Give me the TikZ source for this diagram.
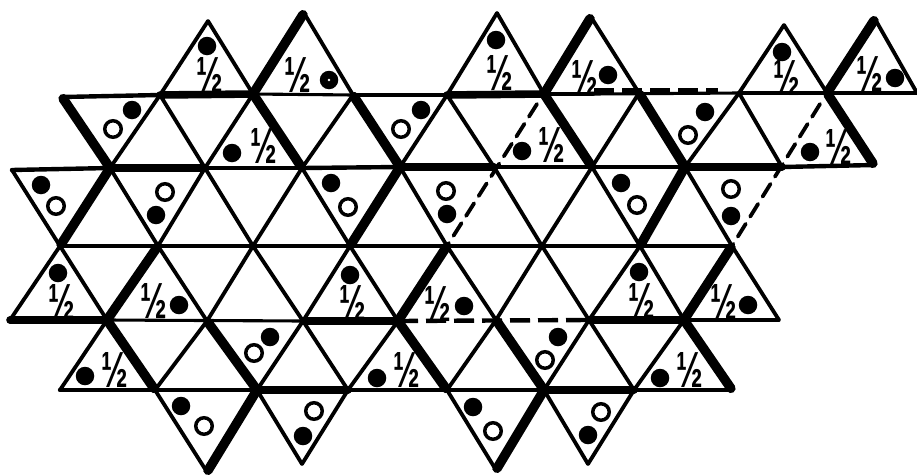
\documentclass[tikz,border=0pt]{standalone}
\usepackage{graphicx}
\usepackage{fontspec}
\setmainfont{Liberation Sans}
\newcommand\halfmark{\scalebox{0.82}[1.3]{½}}
\tikzset{
  thinline/.style={line width=3.8pt,line cap=round},
  thinhoriz/.style={line width=3.1pt,line cap=round},
  medline/.style={line width=4.4pt,line cap=round},
  thickline/.style={line width=9.5pt,line cap=round,shorten <=2pt,shorten >=2pt},
  thickhoriz/.style={line width=7.6pt,line cap=round},
  dashline/.style={line width=3.8pt,line cap=round,dash pattern=on 15pt off 8.5pt},
  hdashline/.style={line width=4.4pt,dash pattern=on 20pt off 8pt},
  fulldot/.style={circle,fill=black,inner sep=0pt,outer sep=0pt,minimum size=18.5pt},
  opendot/.style={circle,draw=black,line width=3.5pt,inner sep=0pt,outer sep=0pt,minimum size=16.5pt},
  pip/.style={circle,fill=white,inner sep=0pt,outer sep=0pt,minimum size=2.6pt},
  halflabel/.style={inner sep=0pt,outer sep=0pt,font=\fontsize{39}{39}\bfseries\selectfont}
}
\begin{document}
\begin{tikzpicture}[x=1pt,y=-1pt]
\useasboundingbox (0,0) rectangle (917,474);
\foreach \n/\x/\y in {
 a1/208/21,a2/304/13,a3/497/13,a4/591/17,a5/784/25,a6/875/19,
 b1/62/97,b2/160/95,b3/253/94,b4/353/95,b5/447/95,b6/544/94,b7/639/93,b8/739/93,b9/827/93,b10/917/93,
 c1/12/170,c2/110/168,c3/205/168,c4/302/168,c5/400/167,c6/494/167,c7/592/167,c8/685/167,c9/782/167,c10/874/165,
 d1/60/246,d2/158/246,d3/253/246,d4/350/246,d5/447/246,d6/542/246,d7/640/246,d8/732/246,
 e1/10/320,e2/107/320,e3/207/321,e4/303/321,e5/398/321,e6/496/320,e7/589/320,e8/684/320,e9/779/320,
 f1/60/390,f2/155/390,f3/257/390,f4/348/390,f5/447/390,f6/544/390,f7/634/390,f8/732/390,
 g1/207/472,g2/302/464,g3/496/470,g4/588/464}
 \coordinate (\n) at (\x,\y);
\coordinate (bm) at (593,94);
\coordinate (bd1) at (594,90.5);
\coordinate (bd2) at (718,90.5);
\coordinate (s1) at (537,104);
\coordinate (s2) at (820,104);
% thin edges
\foreach \p/\q in {
 a1/b3,c4/d4,d4/e5,f5/g3, a2/b4,c5/d5,d5/e6,f6/g4, a3/b6,c7/d7,d7/e8, a4/b7,c8/d8,d8/e9, a5/b9, a6/b10,
 c2/d2,d2/e3,f3/g2, b2/c3,c3/d3,d3/e4,e4/f4, b5/c6,c6/d6,d6/e7,e7/f7, b8/c9, c1/d1,d1/e2,f2/g1,
 b3/c3,c3/d2,e2/f1, a1/b2,b2/c2,d1/e1, a3/b5,b5/c5,d4/e4,e4/f3, e5/f4,f4/g2,
 a5/b8,b8/c8,d7/e7,e7/f6, e8/f7,f7/g4, b4/c4,c4/d3,d3/e3,e3/f2, b7/c7,c7/d6,d6/e6,e6/f5}
 \draw[thinline] (\p) -- (\q);
\foreach \p/\q in {b3/b4,b4/b5,bm/b8,b9/b10,c7/c8,d1/d8,e2/e4,e8/e9,f2/f3,f4/f6,f7/f8,c3/c4}
 \draw[thinhoriz] (\p) -- (\q);
% medium edges
\foreach \p/\q in {b1/b2,b6/bm,b8/b9,c1/c2,c4/c5,c6/c7,c9/c10,f1/f2}
 \draw[medline] (\p) -- (\q);
% thick edges
\foreach \p/\q in {
 b3/c4,e5/f5,b4/c5,e6/f6,b6/c7,e8/f8,b7/c8,b9/c10,b1/c2,e3/f3,e2/f2,
 a2/b3,d2/e2,c2/d1,c5/d4,f3/g1,a4/b6,d5/e5,c8/d7,f6/g3,a6/b9,d8/e8}
 \draw[thickline] (\p) -- (\q);
\foreach \p/\q in {b2/b3,b5/b6,c2/c3,c5/c6,c8/c9,e1/e2,e4/e5,e7/e8,f3/f4,f6/f7}
 \draw[thickhoriz] (\p) -- (\q);
% dashed edges
\draw[dashline] (s1) -- (d5);
\draw[dashline] (s2) -- (d8);
\draw[hdashline] (e5) -- (e7);
\draw[hdashline] (bd1) -- (bd2);
% filled dots
\foreach \x/\y [count=\i] in {
 207/46,329/80,132/110,421/110,232/153,41/185,156/215,331/183,447/214,
 496/40,608/75,782/52,895/78,705/112,522/151,810/152,621/183,731/216,
 58/273,179/305,350/275,270/337,85/376,377/378,181/406,303/436,464/306,
 639/272,748/305,558/337,660/378,473/407,588/435}
 \node[fulldot] (fd\i) at (\x,\y) {};
\node[pip] (pp) at (329,80) {};
% open dots
\foreach \x/\y [count=\i] in {
 113/129,401/129,56/206,165/192,348/207,446/191,
 688/135,731/189,637/205,254/353,204/426,314/411,545/360,493/431,601/412}
 \node[opendot] (od\i) at (\x,\y) {};
% one-half labels
\foreach \x/\y [count=\i] in {
 210/75,298/75,264/146,500/73,585/78,787/78,870/74,552/145,839/147,
 62/302,154/301,353/303,438/304,115/370,407/370,642/301,724/302,690/370}
 \node[halflabel] (h\i) at (\x,\y) {\halfmark};
\end{tikzpicture}
\end{document}
